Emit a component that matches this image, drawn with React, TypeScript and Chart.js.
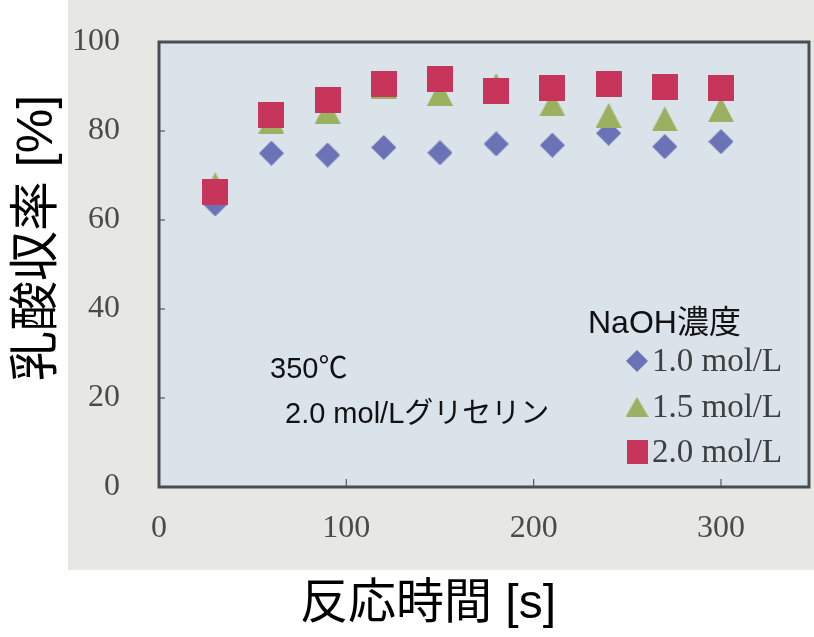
import React, { useEffect, useRef } from 'react';
import { Chart, registerables } from 'chart.js';

Chart.register(...registerables);

// ---- data ----
const reactionTimes = [30, 60, 90, 120, 150, 180, 210, 240, 270, 300];
const yieldNaOH10 = [63.6, 75.0, 74.6, 76.3, 75.1, 77.1, 76.8, 79.5, 76.5, 77.6];
const yieldNaOH15 = [67.9, 82.2, 84.4, 90.0, 88.5, 90.2, 86.1, 83.5, 82.7, 84.8];
const yieldNaOH20 = [66.4, 83.6, 87.0, 90.6, 91.7, 89.1, 89.7, 90.6, 90.0, 89.7];
const seriesLabels = ['1.0 mol/L', '1.5 mol/L', '2.0 mol/L'];
const xTickValues = [100, 200, 300];
const yTickValues = [20, 40, 60, 80];
const legendTitle = 'NaOH濃度';
const noteLines = ['350℃', '2.0 mol/Lグリセリン'];
const xTitle = '反応時間 [s]';
const yTitle = '乳酸収率 [%]';

const COLORS = ['#6b72b6', '#9bb060', '#c8355b'];
const KINDS = ['diamond', 'triangle', 'square'];

function makeMarker(kind: string, color: string, w: number, h: number) {
  const c = document.createElement('canvas');
  c.width = w;
  c.height = h;
  const ctx = c.getContext('2d')!;
  ctx.fillStyle = color;
  ctx.beginPath();
  if (kind === 'diamond') {
    ctx.moveTo(w / 2, 0);
    ctx.lineTo(w, h / 2);
    ctx.lineTo(w / 2, h);
    ctx.lineTo(0, h / 2);
    ctx.closePath();
  } else if (kind === 'triangle') {
    ctx.moveTo(w / 2, 0);
    ctx.lineTo(w, h);
    ctx.lineTo(0, h);
    ctx.closePath();
  } else {
    ctx.rect(0, 0, w, h);
  }
  ctx.fill();
  return c;
}

const SANS = '"Liberation Sans", "Noto Sans CJK JP", sans-serif';
const SERIF = '"Liberation Serif", "DejaVu Serif", serif';

const zeroPad = (s: any) => {
  s.paddingTop = 0;
  s.paddingBottom = 0;
  s.paddingLeft = 0;
  s.paddingRight = 0;
};

const decorPlugin = {
  id: 'decor',
  beforeDraw(chart: any) {
    const { ctx, chartArea: a } = chart;
    ctx.save();
    ctx.fillStyle = '#ffffff';
    ctx.fillRect(0, 0, chart.width, chart.height);
    ctx.fillStyle = '#e7e7e4';
    ctx.fillRect(68, 0, chart.width - 68, 570);
    ctx.fillStyle = '#dae2ea';
    ctx.fillRect(a.left, a.top, a.right - a.left, a.bottom - a.top);
    ctx.restore();
  },
  beforeDatasetsDraw(chart: any) {
    const { ctx, chartArea: a, scales } = chart;
    ctx.save();
    ctx.strokeStyle = '#555a5e';
    ctx.lineWidth = 1.2;
    yTickValues.forEach((v) => {
      const y = scales.y.getPixelForValue(v);
      ctx.beginPath();
      ctx.moveTo(a.left, y);
      ctx.lineTo(a.left + 6, y);
      ctx.stroke();
    });
    xTickValues.forEach((v) => {
      const x = scales.x.getPixelForValue(v);
      ctx.beginPath();
      ctx.moveTo(x, a.bottom);
      ctx.lineTo(x, a.bottom - 8);
      ctx.stroke();
    });
    ctx.strokeStyle = '#4a4d50';
    ctx.lineWidth = 3;
    ctx.strokeRect(a.left, a.top, a.right - a.left, a.bottom - a.top);
    ctx.restore();
  },
  afterDatasetsDraw(chart: any) {
    const { ctx } = chart;
    ctx.save();
    ctx.fillStyle = '#111111';
    ctx.textBaseline = 'alphabetic';
    ctx.textAlign = 'left';
    ctx.font = `29px ${SANS}`;
    ctx.fillText(noteLines[0], 270, 378);
    ctx.fillText(noteLines[1], 285, 423);
    ctx.font = `32px ${SANS}`;
    ctx.fillText(legendTitle, 588, 333);

    const rowsY = [361, 407, 452];
    const sizes = [
      [22, 22],
      [23, 20],
      [21, 24],
    ];
    chart.data.datasets.forEach((ds: any, i: number) => {
      const m = makeMarker(KINDS[i], COLORS[i], sizes[i][0], sizes[i][1]);
      ctx.drawImage(m, 637 - sizes[i][0] / 2, rowsY[i] - sizes[i][1] / 2);
      ctx.fillStyle = '#3f3f3f';
      ctx.font = `33px ${SERIF}`;
      ctx.textBaseline = 'middle';
      ctx.fillText(ds.label, 652, rowsY[i] + 1);
    });

    ctx.fillStyle = '#000000';
    ctx.font = `48px ${SANS}`;
    ctx.textAlign = 'center';
    ctx.textBaseline = 'middle';
    ctx.fillText(xTitle, 428, 605);
    ctx.font = `50px ${SANS}`;
    ctx.translate(38, 238);
    ctx.rotate(-Math.PI / 2);
    ctx.fillText(yTitle, 0, 0);
    ctx.restore();
  },
};

export default function App() {
  const ref = useRef<HTMLCanvasElement | null>(null);

  useEffect(() => {
    document.body.style.margin = '0';
    const canvas = ref.current!;
    const series = [yieldNaOH10, yieldNaOH15, yieldNaOH20];
    const markerSizes = [
      [25, 25],
      [26, 25],
      [26, 26],
    ];
    const chart = new Chart(canvas, {
      type: 'scatter',
      data: {
        datasets: series.map((vals, i) => ({
          label: seriesLabels[i],
          data: reactionTimes.map((t, j) => ({ x: t, y: vals[j] })),
          pointStyle: makeMarker(KINDS[i], COLORS[i], markerSizes[i][0], markerSizes[i][1]),
          backgroundColor: COLORS[i],
          borderColor: COLORS[i],
          showLine: false,
          order: 3 - i,
        })),
      },
      options: {
        responsive: false,
        animation: false,
        layout: { padding: { left: 72, right: 4, top: 42, bottom: 87 } },
        plugins: {
          legend: { display: false },
          tooltip: { enabled: false },
        },
        scales: {
          x: {
            type: 'linear',
            position: 'bottom',
            min: 0,
            max: 347,
            grid: { display: false, drawTicks: false },
            border: { display: false },
            ticks: {
              stepSize: 100,
              includeBounds: false,
              padding: 22,
              color: '#4a4a4a',
              font: { family: SERIF, size: 32 },
            },
            afterFit: (s: any) => {
              s.height = 63;
              zeroPad(s);
            },
          },
          y: {
            type: 'linear',
            min: 0,
            max: 100,
            grid: { display: false, drawTicks: false },
            border: { display: false },
            ticks: {
              stepSize: 20,
              padding: 39,
              color: '#4a4a4a',
              font: { family: SERIF, size: 32 },
            },
            afterFit: (s: any) => {
              s.width = 87;
              zeroPad(s);
            },
          },
        },
      },
      plugins: [decorPlugin],
    });
    return () => chart.destroy();
  }, []);

  return (
    <div style={{ position: 'absolute', left: 0, top: 0, width: 814, height: 637 }}>
      <canvas ref={ref} width={814} height={637} style={{ display: 'block' }} />
    </div>
  );
}
